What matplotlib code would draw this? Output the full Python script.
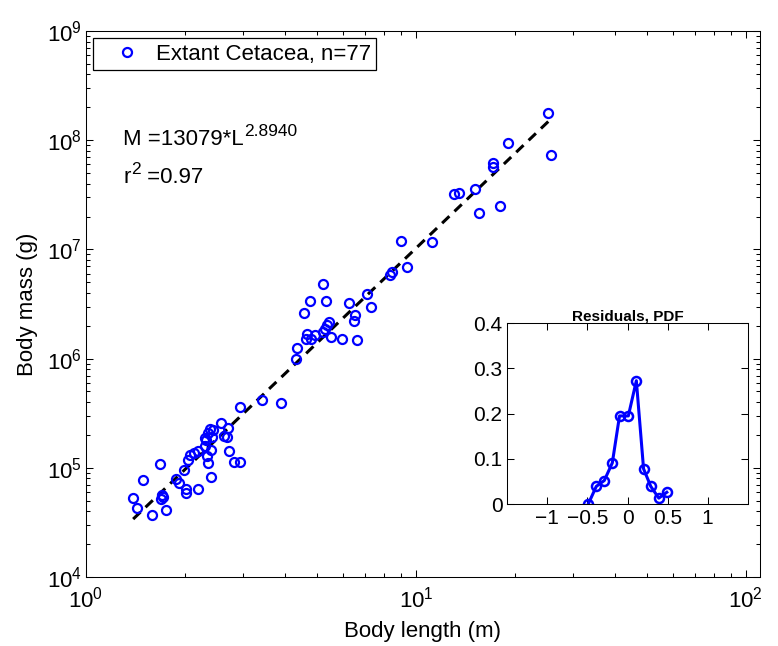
import numpy as np
import matplotlib
matplotlib.use('Agg')
import matplotlib.pyplot as plt
from matplotlib.ticker import NullFormatter

plt.rcParams['font.family'] = ['Liberation Sans', 'DejaVu Sans']
plt.rcParams['mathtext.fontset'] = 'custom'
plt.rcParams['mathtext.rm'] = 'Liberation Sans'
plt.rcParams['mathtext.it'] = 'Liberation Sans:italic'
plt.rcParams['mathtext.bf'] = 'Liberation Sans:bold'

# Extant Cetacea: body length (m) and body mass (g)
length_m = [1.39, 1.43, 1.49, 1.58, 1.68, 1.70, 1.71, 1.69, 1.75, 1.87,
            1.91, 1.98, 2.01, 2.01, 2.04, 2.07, 2.13, 2.19, 2.19, 2.29,
            2.29, 2.32, 2.34, 2.34, 2.38, 2.42, 2.41, 2.40, 2.40, 2.56,
            2.69, 2.62, 2.67, 2.72, 2.80, 2.93, 2.92, 2.31,
            3.41, 3.89, 4.36, 4.33, 4.59, 4.77, 5.24, 5.34, 6.28, 7.12,
            7.29, 6.54, 6.49, 5.46, 5.39, 5.30, 5.24, 4.69, 4.64, 4.80,
            4.94, 5.52, 5.98, 6.61, 8.44, 8.34, 9.39, 9.01, 11.2, 13.0,
            13.5, 15.1, 15.5, 18.0, 17.1, 17.1, 19.0, 25.1, 25.6]
mass_g = [5.26e4, 4.24e4, 7.73e4, 3.70e4, 1.08e5, 5.64e4, 5.40e4, 5.13e4, 4.15e4, 7.85e4,
          7.21e4, 9.55e4, 6.33e4, 5.84e4, 1.17e5, 1.31e5, 1.38e5, 1.44e5, 6.46e4, 1.86e5,
          1.60e5, 1.28e5, 1.10e5, 2.10e5, 2.29e5, 2.22e5, 1.93e5, 1.46e5, 8.29e4, 2.56e5,
          2.30e5, 1.96e5, 1.92e5, 1.43e5, 1.14e5, 1.13e5, 3.57e5, 1.80e5,
          4.18e5, 3.90e5, 1.25e6, 9.92e5, 2.60e6, 3.37e6, 4.79e6, 3.39e6, 3.21e6, 3.91e6,
          2.99e6, 2.51e6, 2.21e6, 2.18e6, 2.03e6, 1.86e6, 1.76e6, 1.68e6, 1.50e6, 1.50e6,
          1.65e6, 1.57e6, 1.50e6, 1.48e6, 6.25e6, 5.83e6, 6.94e6, 1.19e7, 1.17e7, 3.20e7,
          3.26e7, 3.55e7, 2.14e7, 2.50e7, 6.18e7, 5.68e7, 9.49e7, 1.76e8, 7.32e7]

# fit M = a * L^b
fit_a = 13079
fit_b = 2.8940
fit_r2 = 0.97

# residuals pdf (inset)
resid_x = [-0.49, -0.39, -0.29, -0.19, -0.10, 0.01, 0.11, 0.20, 0.29, 0.39, 0.49]
resid_pdf = [0.0, 0.039, 0.052, 0.091, 0.195, 0.195, 0.273, 0.078, 0.039, 0.013, 0.026]

L = np.array(length_m)
M = np.array(mass_g)
blue = (0, 0, 1)

fig = plt.figure(figsize=(7.78, 6.46), dpi=100)
ax = fig.add_axes([0.1105, 0.1068, 0.8663, 0.8452])

ax.plot(L, M, 'o', mfc='none', mec=blue, ms=6.5, mew=1.6,
        label='Extant Cetacea, n=%d' % len(L), zorder=3)
fit_L = np.array([L.min(), L.max()])
ax.plot(fit_L, fit_a * fit_L**fit_b, color='k', lw=2.2, dashes=(3.3, 2.3), zorder=2)

ax.set_xscale('log')
ax.set_yscale('log')
ax.set_xlim(1, 110.3)
ax.set_ylim(1e4, 1e9)
ax.xaxis.set_minor_formatter(NullFormatter())
ax.yaxis.set_minor_formatter(NullFormatter())
ax.tick_params(which='both', direction='in', top=True, right=True, width=0.75)
ax.tick_params(which='major', length=5, labelsize=16)
ax.tick_params(which='minor', length=2.6)
ax.tick_params(axis='x', which='major', pad=7)
ax.tick_params(axis='y', which='major', pad=3)
for s in ax.spines.values():
  s.set_linewidth(0.75)

ax.set_xlabel('Body length (m)', fontsize=16, labelpad=6)
ax.set_ylabel('Body mass (g)', fontsize=16, labelpad=6)

leg = ax.legend(loc='upper left', fontsize=16, numpoints=1, fancybox=False,
                edgecolor='k', framealpha=1, borderpad=0.25, handlelength=2.5,
                handletextpad=0.05, borderaxespad=0.33)
leg.get_frame().set_linewidth(0.9)

# fit equation, exponent drawn a bit larger like the original
t_m = ax.text(0.0553, 0.791, 'M =%d*L' % fit_a, transform=ax.transAxes,
              fontsize=16, va='baseline')
ax.annotate('%.4f' % fit_b, xy=(1, 0), xycoords=t_m, xytext=(0.3, 7.7),
            textcoords='offset points', fontsize=12.5, va='bottom')
t_r = ax.text(0.0553, 0.7216, 'r', transform=ax.transAxes, fontsize=16, va='baseline')
t_s = ax.annotate('2', xy=(1, 0), xycoords=t_r, xytext=(0.3, 7.7),
                  textcoords='offset points', fontsize=12.5, va='bottom')
ax.annotate(' =%.2f' % fit_r2, xy=(1, 0), xycoords=t_s, xytext=(0, -7.7),
            textcoords='offset points', fontsize=16, va='bottom')

# inset
ins = fig.add_axes([0.6521, 0.2198, 0.309, 0.2797])
ins.plot(resid_x, resid_pdf, '-o', color=blue, lw=2.2, mfc='none', mec=blue, ms=6.5, mew=1.8)
ins.set_xlim(-1.5, 1.5)
ins.set_ylim(0, 0.4)
ins.set_xticks([-1, -0.5, 0, 0.5, 1])
ins.set_xticklabels(['\u22121', '\u22120.5', '0', '0.5', '1'])
ins.set_yticks([0, 0.1, 0.2, 0.3, 0.4])
ins.set_yticklabels(['0', '0.1', '0.2', '0.3', '0.4'])
ins.tick_params(direction='in', top=True, right=True, length=5, width=0.75, labelsize=15)
for s in ins.spines.values():
  s.set_linewidth(0.75)
ins.set_title('Residuals, PDF', fontsize=11, fontweight='bold', pad=2)

fig.savefig('out.png', dpi=100)
